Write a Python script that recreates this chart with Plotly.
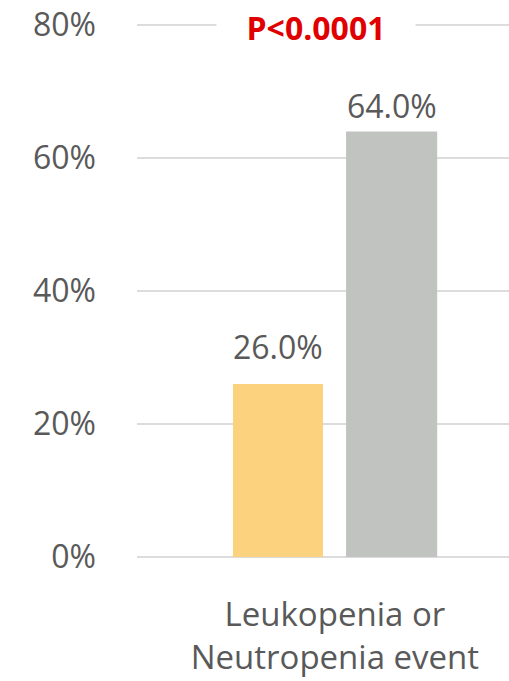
import plotly.graph_objects as go

categories = ["Leukopenia or<br>Neutropenia event"]
group_names = ["Group A", "Group B"]
values_a = [26.0]
values_b = [64.0]
p_label = "P<0.0001"
y_ticks = [0, 20, 40, 60, 80]

colors = ["#FCD27F", "#C1C3C1"]
offsets = [-0.274, 0.030]
widths = [0.242, 0.245]
label_shift = [14, 2]

fig = go.Figure()
for name, vals, col, off, w in zip(group_names, [values_a, values_b], colors, offsets, widths):
    fig.add_trace(go.Bar(x=categories, y=vals, name=name, marker=dict(color=col, line=dict(width=0)),
                         offset=off, width=w, showlegend=False))

for vals, off, w, ys in zip([values_a, values_b], offsets, widths, label_shift):
    for i, v in enumerate(vals):
        fig.add_annotation(x=i + off + w / 2, y=v, xref="x", yref="y", text=f"{v:.1f}%",
                           showarrow=False, yanchor="bottom", yshift=ys,
                           font=dict(family="Open Sans", size=32, color="#595959"))

fig.add_annotation(x=0.481, y=80, xref="paper", yref="y", text=f"<b>{p_label}</b>", showarrow=False,
                   yanchor="middle", bgcolor="white", width=196, yshift=-3,
                   font=dict(family="Open Sans", size=32, color="#E00000"))

fig.update_layout(
    width=509, height=681,
    margin=dict(l=137, r=0, t=22, b=124),
    paper_bgcolor="white", plot_bgcolor="white",
    barmode="overlay",
    font=dict(family="Open Sans", color="#595959"),
)
fig.update_xaxes(type="category", range=[-0.532, 0.468], showgrid=False, showline=False,
                 tickfont=dict(size=33, color="#595959"), ticks="", ticklabelstandoff=35)
fig.update_yaxes(range=[0, 80.45], tickvals=y_ticks, ticktext=[f"{t}%" for t in y_ticks],
                 showgrid=True, gridcolor="#DCDCDC", gridwidth=2,
                 zeroline=True, zerolinecolor="#DCDCDC", zerolinewidth=2,
                 tickfont=dict(size=32, color="#595959"), ticks="", ticklabelstandoff=40)

fig.write_html("out.html")
